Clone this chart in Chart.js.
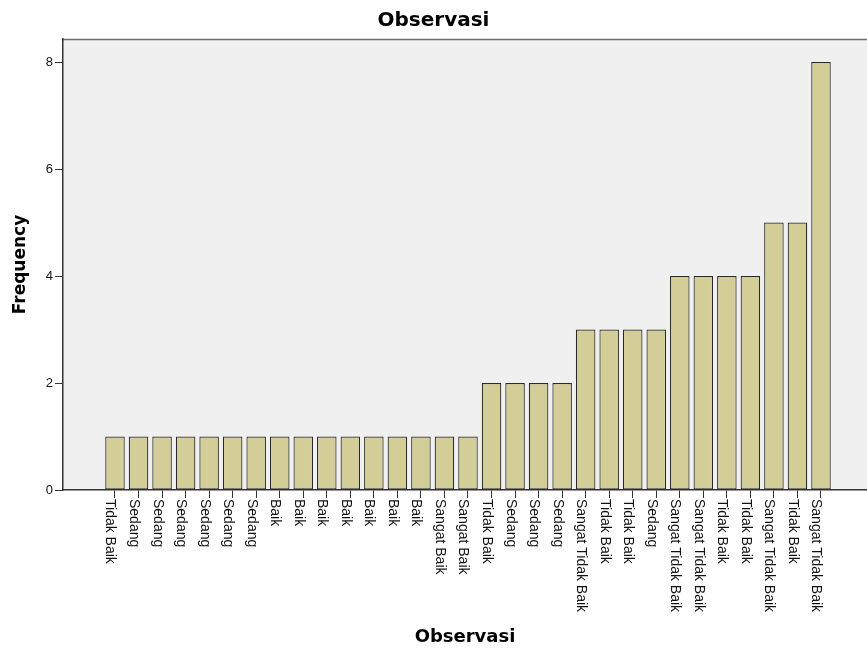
<!DOCTYPE html>
<html>
<head>
<meta charset="utf-8">
<script src="https://cdn.jsdelivr.net/npm/chart.js@4/dist/chart.umd.min.js"></script>
<style>
  html, body { margin: 0; padding: 0; background: #ffffff; }
  #wrap { width: 867px; height: 650px; }
</style>
</head>
<body>
<div id="wrap"><canvas id="c" width="867" height="650"></canvas></div>
<script>
// ---- data ----
const categories = [
  "Tidak Baik", "Sedang", "Sedang", "Sedang", "Sedang", "Sedang", "Sedang",
  "Baik", "Baik", "Baik", "Baik", "Baik", "Baik", "Baik",
  "Sangat Baik", "Sangat Baik",
  "Tidak Baik", "Sedang", "Sedang", "Sedang",
  "Sangat Tidak Baik", "Tidak Baik", "Tidak Baik", "Sedang",
  "Sangat Tidak Baik", "Sangat Tidak Baik", "Tidak Baik", "Tidak Baik",
  "Sangat Tidak Baik", "Tidak Baik", "Sangat Tidak Baik"
];
const frequencies = [
  1, 1, 1, 1, 1, 1, 1,
  1, 1, 1, 1, 1, 1, 1,
  1, 1,
  2, 2, 2, 2,
  3, 3, 3, 3,
  4, 4, 4, 4,
  5, 5, 8
];
const yTicks = [0, 2, 4, 6, 8];
const chartTitle = "Observasi";
const xTitle = "Observasi";
const yTitle = "Frequency";

// ---- plugins (styling only) ----
const plotBackground = {
  id: 'plotBackground',
  beforeDraw(chart) {
    const a = chart.chartArea, ctx = chart.ctx;
    ctx.save();
    ctx.fillStyle = '#f0f0f0';
    ctx.fillRect(a.left, a.top, a.right - a.left, a.bottom - a.top);
    ctx.strokeStyle = '#6e6e6e';
    ctx.lineWidth = 1.5;
    ctx.beginPath();
    ctx.moveTo(a.left, a.top + 0.5);
    ctx.lineTo(a.right, a.top + 0.5);
    ctx.stroke();
    ctx.restore();
  }
};

const verticalLabels = {
  id: 'verticalLabels',
  afterDraw(chart) {
    const xs = chart.scales.x, ctx = chart.ctx;
    const y0 = chart.chartArea.bottom + 9;
    ctx.save();
    ctx.fillStyle = '#111';
    ctx.font = '14px "Liberation Sans", Arial, sans-serif';
    ctx.textAlign = 'left';
    ctx.textBaseline = 'alphabetic';
    categories.forEach((lab, i) => {
      const x = xs.getPixelForValue(i);
      ctx.save();
      ctx.translate(x, y0);
      ctx.rotate(Math.PI / 2);
      ctx.fillText(lab, 0, 8.5);
      ctx.restore();
    });
    ctx.restore();
  }
};

new Chart(document.getElementById('c'), {
  type: 'bar',
  data: {
    datasets: [{
      data: frequencies.map((v, i) => ({ x: i, y: v })),
      backgroundColor: '#d3ce97',
      borderColor: '#2a2a2a',
      borderWidth: 1.2,
      borderSkipped: false,
      barPercentage: 0.83,
      categoryPercentage: 1.0
    }]
  },
  options: {
    responsive: false,
    devicePixelRatio: 1,
    animation: false,
    layout: { padding: 0 },
    plugins: {
      legend: { display: false },
      tooltip: { enabled: false },
      title: {
        display: true,
        text: chartTitle,
        color: '#000',
        font: { family: '"DejaVu Sans", Verdana, sans-serif', size: 20, weight: 'bold', lineHeight: 1.2 },
        padding: { top: 9, bottom: 6 }
      }
    },
    scales: {
      x: {
        type: 'linear',
        offset: false,
        min: -2.2096,
        max: 31.955,
        afterBuildTicks: (scale) => { scale.ticks = categories.map((_, i) => ({ value: i })); },
        afterFit: (scale) => { scale.height = 160; },
        ticks: { display: false },
        grid: { offset: false, drawOnChartArea: false, drawTicks: true, tickLength: 8, tickColor: '#333', color: '#333' },
        border: { display: true, color: '#333', width: 1.5 },
        title: {
          display: true,
          text: xTitle,
          color: '#000',
          font: { family: '"DejaVu Sans", Verdana, sans-serif', size: 18, weight: 'bold', lineHeight: 1.2 },
          padding: { top: 0, bottom: 2.2 }
        }
      },
      y: {
        min: 0,
        max: 8.43,
        afterBuildTicks: (scale) => { scale.ticks = yTicks.map(v => ({ value: v })); },
        afterFit: (scale) => { scale.width = 63; },
        ticks: {
          color: '#111',
          padding: 2,
          font: { family: '"Liberation Sans", Arial, sans-serif', size: 13 }
        },
        grid: { drawOnChartArea: false, drawTicks: true, tickLength: 8, tickColor: '#333', color: '#333' },
        border: { display: true, color: '#333', width: 1.5 },
        title: {
          display: true,
          text: yTitle,
          color: '#000',
          font: { family: '"DejaVu Sans", Verdana, sans-serif', size: 17, weight: 'bold', lineHeight: 1.2 },
          padding: { top: 10, bottom: 0 }
        }
      }
    }
  },
  plugins: [plotBackground, verticalLabels]
});
</script>
</body>
</html>
